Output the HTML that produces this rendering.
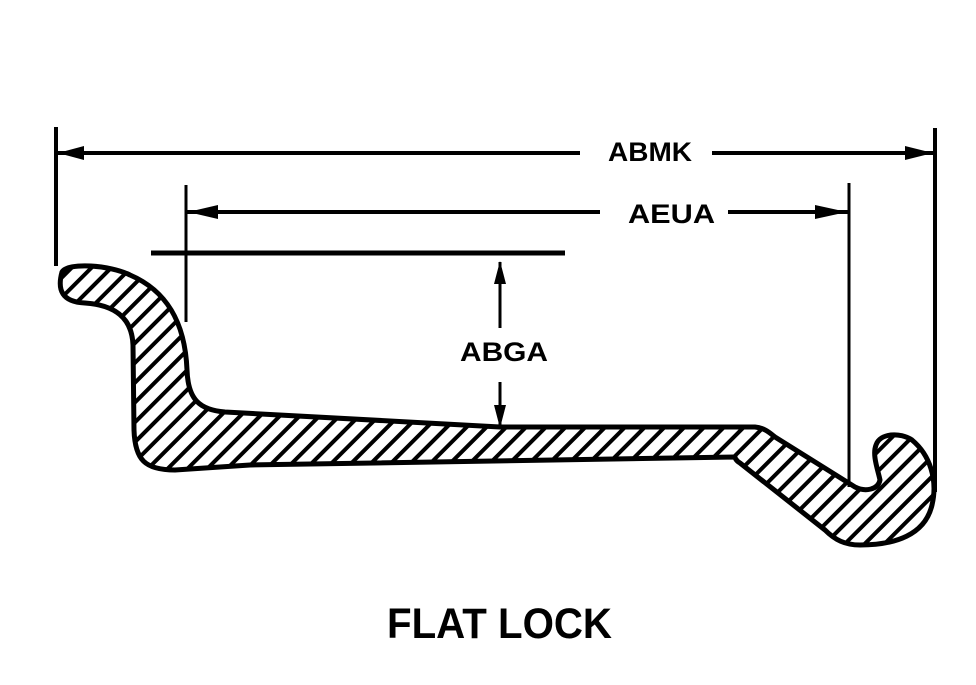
<!DOCTYPE html>
<html><head><style>html,body{margin:0;padding:0;background:#fff;}svg{display:block}</style></head>
<body>
<svg width="976" height="685" viewBox="0 0 976 685" xmlns="http://www.w3.org/2000/svg">
<defs>
<pattern id="h" patternUnits="userSpaceOnUse" width="14" height="14" patternTransform="rotate(45)">
<rect x="0" y="0" width="4" height="14" fill="#000"/>
</pattern>
</defs>
<g stroke="#000" fill="none">
<line x1="56" y1="127" x2="56" y2="266" stroke-width="4"/>
<line x1="935" y1="128" x2="935" y2="492" stroke-width="4"/>
<line x1="56" y1="153" x2="580" y2="153" stroke-width="4"/>
<line x1="712" y1="153" x2="935" y2="153" stroke-width="4"/>
<line x1="186" y1="185" x2="186" y2="322" stroke-width="3"/>
<line x1="849" y1="183" x2="849" y2="487" stroke-width="3"/>
<line x1="186" y1="212" x2="600" y2="212" stroke-width="4"/>
<line x1="728" y1="212" x2="849" y2="212" stroke-width="4"/>
<line x1="151" y1="253" x2="565" y2="253" stroke-width="5"/>
<line x1="500" y1="262" x2="500" y2="328" stroke-width="3"/>
<line x1="500" y1="382" x2="500" y2="428" stroke-width="3"/>
</g>
<g fill="#000">
<polygon points="58,153 84,146 84,160"/>
<polygon points="933,153 905,146 905,160"/>
<polygon points="188,212 218,205 218,219"/>
<polygon points="847,212 815,205 815,219"/>
<polygon points="500,261 494,284 506,284"/>
<polygon points="500,428 494,405 506,405"/>
</g>
<path d="M 62,272 C 68,262 110,265 130,275 C 165,290 185,320 187,370 C 188,400 200,410 225,412 L 500,427 L 755,427 C 765,428 770,433 775,437 L 855,487 C 865,492 878,490 880,480 C 878,470 872,455 876,445 C 880,433 900,432 912,440 C 930,455 938,480 932,505 C 925,535 895,545 860,545 C 845,545 835,540 825,530 L 740,463 C 735,460 735,457 735,457 L 250,465 L 175,470 C 145,470 135,460 134,430 L 133,345 C 132,318 115,305 85,303 C 62,302 57,290 62,272 Z" fill="url(#h)" stroke="#000" stroke-width="5" stroke-linejoin="round"/>
<g font-family="'Liberation Sans', sans-serif" font-weight="bold" fill="#000">
<text x="608" y="161" font-size="27" textLength="84" lengthAdjust="spacingAndGlyphs">ABMK</text>
<text x="628" y="223" font-size="27" textLength="87" lengthAdjust="spacingAndGlyphs">AEUA</text>
<text x="460" y="361" font-size="27" textLength="88" lengthAdjust="spacingAndGlyphs">ABGA</text>
<text x="387" y="638" font-size="43" textLength="225" lengthAdjust="spacingAndGlyphs">FLAT LOCK</text>
</g>
</svg>
</body></html>
